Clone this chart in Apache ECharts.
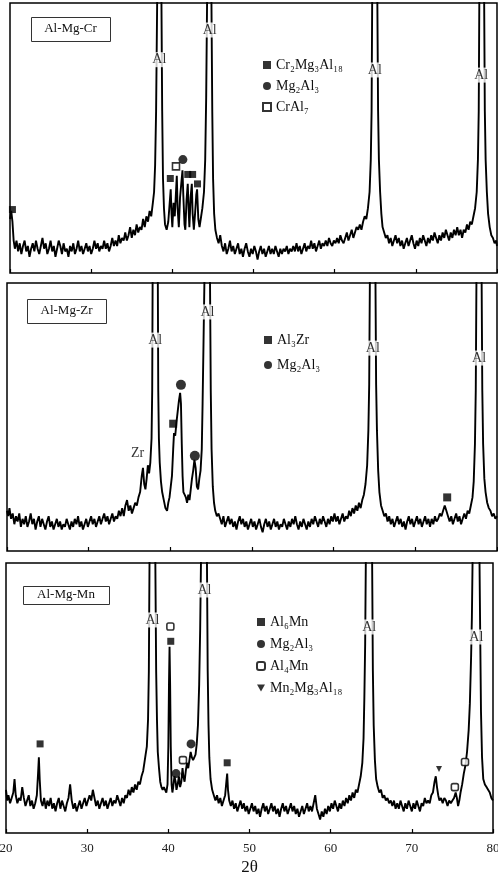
<!DOCTYPE html>
<html><head><meta charset="utf-8">
<script src="https://cdn.jsdelivr.net/npm/echarts@6/dist/echarts.min.js"></script>
<style>html,body{margin:0;padding:0;background:#fff}#c{width:498px;height:876px}</style>
</head><body><div id="c"></div>
<script>
// ---- DATA (2θ in degrees, intensity in % of panel height; values >100 run off the top) ----
const panelNames = ['Al-Mg-Cr', 'Al-Mg-Zr', 'Al-Mg-Mn'];
const xTickValues = [20, 30, 40, 50, 60, 70, 80];

const p1Data = [[20.0,20],[20.15,23],[20.3,19],[20.45,12],[20.6,9],[20.8,12],[21.0,8],[21.2,11],[21.4,7],[21.6,10],[21.8,12],[22.0,8],[22.2,10],[22.4,6],[22.6,9],[22.8,11],[23.0,8],[23.2,12],[23.4,9],[23.6,7],[23.8,10],[24.0,13],[24.2,9],[24.4,11],[24.6,7],[24.8,9],[25.0,12],[25.2,8],[25.4,10],[25.6,6],[25.8,9],[26.0,12],[26.2,10],[26.4,7],[26.6,11],[26.8,8],[27.0,9],[27.2,6],[27.4,10],[27.6,8],[27.8,11],[28.0,7],[28.2,9],[28.4,12],[28.6,8],[28.8,10],[29.0,7],[29.2,9],[29.4,11],[29.6,8],[29.8,10],[30.0,7],[30.2,9],[30.4,12],[30.6,9],[30.8,11],[31.0,8],[31.2,10],[31.4,9],[31.6,12],[31.8,9],[32.0,11],[32.2,8],[32.4,10],[32.6,13],[32.8,10],[33.0,12],[33.2,10],[33.4,14],[33.6,11],[33.8,13],[34.0,12],[34.2,15],[34.4,12],[34.6,14],[34.8,17],[35.0,13],[35.2,16],[35.4,14],[35.6,18],[35.8,15],[36.0,17],[36.2,16],[36.4,20],[36.6,17],[36.8,21],[37.0,19],[37.2,23],[37.4,21],[37.6,26],[37.75,30],[37.88,40],[38.0,60],[38.13,100],[38.15,1000],[38.64,1000],[38.66,100],[38.75,60],[38.85,35],[38.97,24],[39.1,18],[39.3,16],[39.5,19],[39.65,25],[39.8,31],[39.9,22],[40.0,17],[40.15,26],[40.3,21],[40.45,30],[40.55,36],[40.65,24],[40.8,17],[40.95,28],[41.1,33],[41.25,38],[41.35,29],[41.5,18],[41.6,16],[41.75,27],[41.9,33],[42.0,24],[42.1,17],[42.25,28],[42.4,33],[42.5,22],[42.65,16],[42.8,22],[42.95,29],[43.05,31],[43.2,20],[43.35,17],[43.5,20],[43.7,24],[43.9,30],[44.05,42],[44.17,65],[44.28,100],[44.3,1000],[44.8,1000],[44.82,100],[44.92,60],[45.02,35],[45.15,22],[45.3,16],[45.5,13],[45.7,11],[45.9,14],[46.1,10],[46.3,8],[46.5,11],[46.7,7],[46.9,9],[47.1,12],[47.3,8],[47.5,10],[47.7,7],[47.9,9],[48.1,11],[48.3,7],[48.5,9],[48.7,6],[48.9,9],[49.1,11],[49.3,8],[49.5,6],[49.7,9],[49.9,7],[50.1,10],[50.3,8],[50.5,5],[50.7,8],[50.9,10],[51.1,7],[51.3,9],[51.5,6],[51.7,8],[51.9,10],[52.1,7],[52.3,9],[52.5,7],[52.7,10],[52.9,8],[53.1,6],[53.3,9],[53.5,7],[53.7,9],[53.9,8],[54.1,10],[54.3,7],[54.5,9],[54.7,8],[54.9,10],[55.1,8],[55.3,11],[55.5,8],[55.7,10],[55.9,7],[56.1,9],[56.3,11],[56.5,8],[56.7,10],[56.9,9],[57.1,12],[57.3,9],[57.5,11],[57.7,8],[57.9,10],[58.1,12],[58.3,9],[58.5,11],[58.7,10],[58.9,12],[59.1,10],[59.3,13],[59.5,11],[59.7,10],[59.9,12],[60.1,11],[60.3,13],[60.5,11],[60.7,14],[60.9,12],[61.1,11],[61.3,13],[61.5,15],[61.7,12],[61.9,14],[62.1,16],[62.3,13],[62.5,15],[62.7,17],[62.9,16],[63.1,18],[63.3,16],[63.5,19],[63.7,21],[63.9,20],[64.1,24],[64.3,30],[64.45,42],[64.55,60],[64.62,100],[64.66,1000],[65.22,1000],[65.26,100],[65.35,60],[65.45,42],[65.6,30],[65.75,22],[65.9,17],[66.1,15],[66.3,13],[66.5,14],[66.7,11],[66.9,13],[67.1,10],[67.3,12],[67.5,14],[67.7,11],[67.9,13],[68.1,10],[68.3,12],[68.5,9],[68.7,11],[68.9,13],[69.1,10],[69.3,12],[69.5,14],[69.7,11],[69.9,9],[70.1,12],[70.3,10],[70.5,13],[70.7,11],[70.9,14],[71.1,12],[71.3,10],[71.5,13],[71.7,11],[71.9,14],[72.1,12],[72.3,15],[72.5,13],[72.7,11],[72.9,14],[73.1,12],[73.3,15],[73.5,13],[73.7,16],[73.9,14],[74.1,12],[74.3,15],[74.5,13],[74.7,16],[74.9,14],[75.1,17],[75.3,14],[75.5,16],[75.7,13],[75.9,16],[76.1,15],[76.3,18],[76.5,16],[76.7,19],[76.9,18],[77.1,21],[77.3,24],[77.5,30],[77.65,42],[77.75,60],[77.82,100],[77.86,1000],[78.38,1000],[78.42,100],[78.5,60],[78.6,42],[78.75,30],[78.9,22],[79.1,17],[79.3,14],[79.5,13],[79.7,11],[79.9,12],[80,10]];

const p2Data = [[20.0,15],[20.15,13],[20.3,16],[20.5,12],[20.7,14],[20.9,10],[21.1,13],[21.3,11],[21.5,14],[21.7,9],[21.9,12],[22.1,10],[22.3,13],[22.5,9],[22.7,11],[22.9,14],[23.1,10],[23.3,12],[23.5,8],[23.7,11],[23.9,13],[24.1,9],[24.3,12],[24.5,10],[24.7,8],[24.9,11],[25.1,13],[25.3,9],[25.5,11],[25.7,8],[25.9,10],[26.1,12],[26.3,9],[26.5,11],[26.7,8],[26.9,10],[27.1,9],[27.3,12],[27.5,10],[27.7,8],[27.9,11],[28.1,9],[28.3,12],[28.5,10],[28.7,13],[28.9,9],[29.1,11],[29.3,8],[29.5,10],[29.7,12],[29.9,9],[30.1,11],[30.3,13],[30.5,10],[30.7,12],[30.9,9],[31.1,11],[31.3,13],[31.5,10],[31.7,12],[31.9,14],[32.1,11],[32.3,13],[32.5,10],[32.7,12],[32.9,14],[33.1,11],[33.3,13],[33.5,12],[33.7,15],[33.9,13],[34.1,16],[34.3,13],[34.5,17],[34.7,19],[34.9,15],[35.1,17],[35.3,14],[35.5,16],[35.7,18],[35.9,17],[36.1,20],[36.3,22],[36.5,28],[36.65,31],[36.8,25],[36.95,23],[37.1,27],[37.25,32],[37.4,29],[37.55,33],[37.7,42],[37.78,60],[37.83,100],[37.87,1000],[38.43,1000],[38.47,100],[38.52,60],[38.6,42],[38.7,33],[38.85,26],[39.0,22],[39.2,19],[39.4,16],[39.6,15],[39.75,18],[39.9,20],[40.05,24],[40.2,28],[40.35,38],[40.45,44],[40.6,43],[40.75,48],[40.9,52],[41.05,56],[41.2,59],[41.3,55],[41.4,40],[41.5,28],[41.6,22],[41.75,21],[41.9,20],[42.05,18],[42.2,21],[42.35,19],[42.5,23],[42.65,27],[42.8,30],[42.95,34],[43.1,31],[43.25,24],[43.4,23],[43.55,27],[43.7,30],[43.85,38],[43.95,55],[44.05,75],[44.17,100],[44.21,1000],[44.82,1000],[44.86,100],[44.95,60],[45.05,38],[45.2,24],[45.35,18],[45.5,15],[45.7,13],[45.9,14],[46.1,12],[46.3,10],[46.5,13],[46.7,9],[46.9,11],[47.1,13],[47.3,10],[47.5,12],[47.7,9],[47.9,11],[48.1,8],[48.3,11],[48.5,13],[48.7,10],[48.9,12],[49.1,9],[49.3,11],[49.5,8],[49.7,10],[49.9,12],[50.1,9],[50.3,11],[50.5,8],[50.7,10],[50.9,12],[51.1,9],[51.3,7],[51.5,10],[51.7,12],[51.9,9],[52.1,11],[52.3,8],[52.5,10],[52.7,12],[52.9,9],[53.1,11],[53.3,8],[53.5,10],[53.7,9],[53.9,12],[54.1,10],[54.3,8],[54.5,11],[54.7,9],[54.9,12],[55.1,10],[55.3,13],[55.5,10],[55.7,8],[55.9,11],[56.1,9],[56.3,12],[56.5,10],[56.7,8],[56.9,11],[57.1,9],[57.3,12],[57.5,10],[57.7,13],[57.9,11],[58.1,9],[58.3,12],[58.5,10],[58.7,13],[58.9,11],[59.1,9],[59.3,12],[59.5,10],[59.7,13],[59.9,11],[60.1,14],[60.3,11],[60.5,13],[60.7,10],[60.9,12],[61.1,14],[61.3,11],[61.5,13],[61.7,12],[61.9,15],[62.1,13],[62.3,16],[62.5,14],[62.7,17],[62.9,15],[63.1,18],[63.3,16],[63.5,19],[63.7,21],[63.9,25],[64.1,32],[64.25,45],[64.35,62],[64.43,100],[64.47,1000],[65.08,1000],[65.12,100],[65.2,62],[65.3,45],[65.45,30],[65.6,22],[65.8,17],[66.0,15],[66.2,13],[66.4,14],[66.6,11],[66.8,13],[67.0,10],[67.2,12],[67.4,9],[67.6,11],[67.8,13],[68.0,10],[68.2,12],[68.4,9],[68.6,11],[68.8,8],[69.0,11],[69.2,13],[69.4,10],[69.6,12],[69.8,9],[70.0,11],[70.2,13],[70.4,10],[70.6,12],[70.8,9],[71.0,11],[71.2,13],[71.4,10],[71.6,12],[71.8,9],[72.0,12],[72.2,10],[72.4,13],[72.6,11],[72.8,12],[73.0,14],[73.2,13],[73.4,15],[73.6,17],[73.8,15],[74.0,13],[74.2,11],[74.4,13],[74.6,10],[74.8,12],[75.0,14],[75.2,11],[75.4,13],[75.6,10],[75.8,12],[76.0,14],[76.2,12],[76.4,15],[76.6,14],[76.8,17],[77.0,20],[77.15,26],[77.3,40],[77.4,60],[77.48,100],[77.52,1000],[78.08,1000],[78.12,100],[78.2,60],[78.3,40],[78.45,27],[78.6,22],[78.8,18],[79.0,16],[79.2,15],[79.4,13],[79.6,14],[79.8,12],[80,13]];

const p3Data = [[20.0,16],[20.15,12],[20.3,14],[20.5,11],[20.7,13],[20.9,15],[21.05,20],[21.2,14],[21.4,11],[21.6,13],[21.8,12],[22.0,17],[22.2,13],[22.4,10],[22.6,12],[22.8,14],[23.0,10],[23.2,12],[23.4,9],[23.6,11],[23.8,14],[23.95,22],[24.05,28],[24.15,20],[24.3,12],[24.5,10],[24.7,13],[24.9,9],[25.1,12],[25.3,10],[25.5,13],[25.7,9],[25.9,11],[26.1,8],[26.3,11],[26.5,13],[26.7,9],[26.9,12],[27.1,10],[27.3,8],[27.5,11],[27.7,13],[27.9,18],[28.1,12],[28.3,9],[28.5,11],[28.7,8],[28.9,10],[29.1,12],[29.3,9],[29.5,11],[29.7,13],[29.9,10],[30.1,12],[30.3,14],[30.5,12],[30.7,16],[30.9,13],[31.1,10],[31.3,12],[31.5,9],[31.7,11],[31.9,13],[32.1,10],[32.3,12],[32.5,9],[32.7,11],[32.9,13],[33.1,10],[33.3,12],[33.5,11],[33.7,14],[33.9,12],[34.1,10],[34.3,13],[34.5,11],[34.7,14],[34.9,13],[35.1,16],[35.3,14],[35.5,17],[35.7,15],[35.9,18],[36.1,16],[36.3,19],[36.5,18],[36.7,21],[36.9,23],[37.05,26],[37.2,29],[37.35,32],[37.5,42],[37.6,60],[37.68,100],[37.72,1000],[38.36,1000],[38.4,100],[38.5,60],[38.6,42],[38.7,30],[38.85,24],[39.0,19],[39.15,17],[39.3,16],[39.45,17],[39.6,16],[39.75,15],[39.9,18],[40.0,32],[40.08,55],[40.15,69],[40.22,55],[40.3,32],[40.4,18],[40.5,15],[40.6,17],[40.75,21],[40.9,19],[41.0,16],[41.15,18],[41.3,21],[41.45,17],[41.6,19],[41.75,24],[41.85,21],[42.0,19],[42.15,23],[42.3,26],[42.45,24],[42.6,27],[42.75,30],[42.9,28],[43.05,27],[43.2,27],[43.35,29],[43.5,33],[43.65,40],[43.8,55],[43.92,75],[44.02,100],[44.06,1000],[44.72,1000],[44.76,100],[44.85,60],[44.95,40],[45.05,28],[45.2,20],[45.4,16],[45.6,14],[45.8,12],[46.0,14],[46.2,11],[46.4,13],[46.6,10],[46.8,12],[47.0,14],[47.15,19],[47.25,22],[47.35,16],[47.5,12],[47.7,10],[47.9,12],[48.1,9],[48.3,11],[48.5,8],[48.7,10],[48.9,12],[49.1,9],[49.3,11],[49.5,8],[49.7,10],[49.9,7],[50.1,9],[50.3,11],[50.5,8],[50.7,10],[50.9,7],[51.1,9],[51.3,6],[51.5,9],[51.7,11],[51.9,8],[52.1,10],[52.3,7],[52.5,9],[52.7,11],[52.9,8],[53.1,10],[53.3,7],[53.5,9],[53.7,6],[53.9,9],[54.1,11],[54.3,8],[54.5,10],[54.7,7],[54.9,9],[55.1,11],[55.3,8],[55.5,10],[55.7,7],[55.9,9],[56.1,6],[56.3,8],[56.5,10],[56.7,7],[56.9,9],[57.1,11],[57.3,8],[57.5,10],[57.7,8],[57.9,11],[58.1,14],[58.3,9],[58.5,7],[58.7,5],[58.9,8],[59.1,6],[59.3,9],[59.5,7],[59.7,10],[59.9,8],[60.1,11],[60.3,9],[60.5,12],[60.7,10],[60.9,8],[61.1,11],[61.3,9],[61.5,12],[61.7,10],[61.9,13],[62.1,11],[62.3,14],[62.5,12],[62.7,15],[62.9,13],[63.1,16],[63.3,15],[63.5,18],[63.7,21],[63.9,26],[64.05,35],[64.15,50],[64.25,70],[64.33,100],[64.37,1000],[65.07,1000],[65.11,100],[65.2,60],[65.3,40],[65.45,27],[65.6,20],[65.8,17],[66.0,15],[66.2,16],[66.4,13],[66.6,14],[66.8,12],[67.0,13],[67.2,11],[67.4,12],[67.6,10],[67.8,12],[68.0,9],[68.2,11],[68.4,9],[68.6,12],[68.8,10],[69.0,8],[69.2,11],[69.4,9],[69.6,12],[69.8,10],[70.0,8],[70.2,11],[70.4,9],[70.6,12],[70.8,10],[71.0,8],[71.2,11],[71.4,10],[71.6,13],[71.8,11],[72.0,12],[72.2,11],[72.4,14],[72.6,15],[72.8,19],[72.95,21],[73.1,17],[73.25,14],[73.4,12],[73.6,13],[73.8,11],[74.0,13],[74.2,12],[74.4,10],[74.6,12],[74.8,11],[75.0,12],[75.2,13],[75.4,15],[75.55,13],[75.7,10],[75.85,12],[76.0,15],[76.2,18],[76.4,22],[76.6,25],[76.8,30],[77.0,38],[77.15,48],[77.3,65],[77.4,80],[77.48,100],[77.52,1000],[78.3,1000],[78.34,100],[78.42,75],[78.52,45],[78.65,28],[78.8,20],[79.0,18],[79.2,17],[79.4,16],[79.6,15],[79.8,13],[80,12]];

// phase marker positions [2θ, intensity]
const p1Cr2Mg3Al18 = [[20.3,23.5],[39.75,35],[41.9,36.5],[42.5,36.5],[43.1,33]];
const p1Mg2Al3 = [[41.3,42]];
const p1CrAl7 = [[40.45,39.5]];
const p2Al3Zr = [[40.35,47.5],[73.9,20]];
const p2Mg2Al3 = [[41.3,62],[43.0,35.5]];
const p3Al6Mn = [[24.2,33],[40.3,71],[47.25,26]];
const p3Mg2Al3 = [[40.95,22],[42.8,33]];
const p3Al4Mn = [[40.25,76.5],[41.8,27],[75.3,17],[76.55,26.3]];
const p3Mn2Mg3Al18 = [[73.35,23.7]];

// peak label positions
const p1AlLabels = [[38.4,79],[44.6,90],[64.95,75.2],[78.05,73.3]];
const p2AlLabels = [[38.15,78.7],[44.55,89.2],[64.8,75.7],[77.8,72]];
const p3AlLabels = [[38.05,78.9],[44.45,90],[64.75,76.3],[77.95,72.6]];
const p2ZrLabel = [[36.0,36.5]];

// ---- CHART ----
const SERIF = "'Liberation Serif','DejaVu Serif','Times New Roman',serif";
const grids = [
  {left: 10, top: 3, width: 487, height: 270},
  {left: 7, top: 283, width: 490, height: 268},
  {left: 6, top: 563, width: 487, height: 270}
];
const chart = echarts.init(document.getElementById('c'), null, {renderer: 'canvas'});

const xAxes = grids.map((g, i) => ({
  type: 'value', gridIndex: i, min: xTickValues[0], max: xTickValues[xTickValues.length - 1], interval: 10,
  axisLine: {show: false},
  axisTick: {show: true, inside: true, length: 4, lineStyle: {color: '#000', width: 1.2}},
  axisLabel: {show: i === 2, margin: 9, fontFamily: SERIF, fontSize: 13, color: '#222'},
  splitLine: {show: false},
  name: i === 2 ? '2θ' : '', nameLocation: 'middle', nameGap: 26,
  nameTextStyle: {fontFamily: SERIF, fontSize: 17, color: '#111'}
}));
const yAxes = grids.map((g, i) => ({type: 'value', gridIndex: i, min: 0, max: 100, show: false}));

const lineStyle = {color: '#000', width: 1.9};
function curve(data, i) {
  return {type: 'line', xAxisIndex: i, yAxisIndex: i, data: data, showSymbol: false, symbol: 'none',
    clip: true, lineStyle: lineStyle, z: 2, silent: true};
}
function marks(name, data, i, symbol, size, filled) {
  return {type: 'scatter', name: name, xAxisIndex: i, yAxisIndex: i, data: data, symbol: symbol,
    symbolSize: size, z: 6,
    itemStyle: filled ? {color: '#000'} : {color: '#fff', borderColor: '#000', borderWidth: 1.6}};
}
function labels(data, i, text, bg) {
  return {type: 'scatter', xAxisIndex: i, yAxisIndex: i, data: data, symbolSize: 2, z: 8,
    itemStyle: {color: 'rgba(0,0,0,0)'}, silent: true,
    label: {show: true, position: 'inside', formatter: text, fontFamily: SERIF, fontSize: 14, color: '#000',
      textBorderWidth: 0, textBorderColor: 'transparent',
      backgroundColor: bg ? '#fff' : 'rgba(0,0,0,0)', padding: [1, 1, 0, 1]}};
}

const downTriangle = 'path://M0,0L10,0L5,9Z';
const series = [
  curve(p1Data, 0), curve(p2Data, 1), curve(p3Data, 2),
  marks('Cr₂Mg₃Al₁₈', p1Cr2Mg3Al18, 0, 'rect', 7, true),
  marks('Mg₂Al₃', p1Mg2Al3, 0, 'circle', 9, true),
  marks('CrAl₇', p1CrAl7, 0, 'rect', 7, false),
  marks('Al₃Zr', p2Al3Zr, 1, 'rect', 8, true),
  marks('Mg₂Al₃', p2Mg2Al3, 1, 'circle', 10, true),
  marks('Al₆Mn', p3Al6Mn, 2, 'rect', 7, true),
  marks('Mg₂Al₃', p3Mg2Al3, 2, 'circle', 9, true),
  marks('Al₄Mn', p3Al4Mn, 2, 'roundRect', 7, false),
  marks('Mn₂Mg₃Al₁₈', p3Mn2Mg3Al18, 2, downTriangle, 6, true),
  labels(p1AlLabels, 0, 'Al', true), labels(p2AlLabels, 1, 'Al', true), labels(p3AlLabels, 2, 'Al', true),
  labels(p2ZrLabel, 1, 'Zr', false)
];

const legendBase = {orient: 'vertical', itemWidth: 8, itemHeight: 8, selectedMode: false,
  textStyle: {fontFamily: SERIF, fontSize: 14, color: '#111', lineHeight: 14}};
const legends = [
  Object.assign({}, legendBase, {left: 257, top: 53, itemGap: 7, data: ['Cr₂Mg₃Al₁₈', 'Mg₂Al₃', 'CrAl₇']}),
  Object.assign({}, legendBase, {left: 259, top: 328, itemGap: 11, data: ['Al₃Zr', 'Mg₂Al₃']}),
  Object.assign({}, legendBase, {left: 251, top: 610, itemGap: 8, data: ['Al₆Mn', 'Mg₂Al₃', 'Al₄Mn', 'Mn₂Mg₃Al₁₈']})
];

const boxes = [
  {x: 31, y: 17, w: 79, h: 24},
  {x: 27, y: 299, w: 79, h: 24},
  {x: 23, y: 586, w: 86, h: 18}
];
const graphic = [];
boxes.forEach((b, i) => {
  graphic.push({type: 'rect', left: b.x, top: b.y, z: 10,
    shape: {width: b.w, height: b.h}, style: {fill: '#fff', stroke: '#333', lineWidth: 1}});
  graphic.push({type: 'text', x: b.x + b.w / 2, y: b.y + b.h / 2, z: 11,
    style: {text: panelNames[i], font: '13px ' + SERIF, fill: '#111', textAlign: 'center', textVerticalAlign: 'middle'}});
});

chart.setOption({
  animation: false,
  backgroundColor: '#fff',
  grid: grids.map(g => Object.assign({show: true, borderColor: '#000', borderWidth: 1.5,
    backgroundColor: 'transparent', containLabel: false, outerBoundsMode: 'none'}, g)),
  xAxis: xAxes, yAxis: yAxes,
  legend: legends,
  series: series,
  graphic: graphic
});
</script>
</body></html>
